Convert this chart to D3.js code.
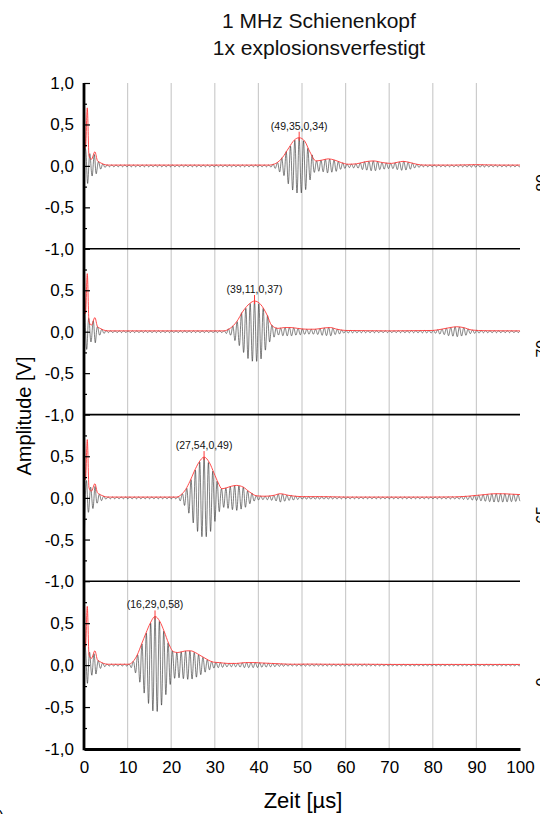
<!DOCTYPE html>
<html><head><meta charset="utf-8">
<script src="https://cdn.jsdelivr.net/npm/d3@7"></script>
<style>body{margin:0;background:#fff}svg{display:block;font-family:"Liberation Sans",Arial,sans-serif}</style>
</head><body><svg id="c" width="540" height="814"></svg>
<script>
// ---------- data ----------
const titleLines = ["1 MHz Schienenkopf", "1x explosionsverfestigt"];
const xLabel = "Zeit [µs]";
const yLabel = "Amplitude [V]";
const xTicks = [0,10,20,30,40,50,60,70,80,90,100];
const gridTicks = [10,20,30,40,50,60,70,80,90];
const yTicksTop = [1,0.5,0,-0.5,-1];
const yTicksOther = [0.5,0,-0.5,-1];
const yMinor = [0.75,0.25,-0.25,-0.75];
const carrierMHz = 1;
const sideLabels = ["80", "70", "65", "0"];

// initial transmitter pulse (common to all traces)
const pulseT = [0, 0.05, 0.35, 0.75, 1.15, 1.7, 2.5, 3.1, 3.7, 4.5, 5.5];
const pulseRedA = [1.0, 0.9, 0.22, 0.7, 0.12, 0.08, 0.17, 0.06, 0.04, 0.02, 0.01];
const pulseBlackA = [0.5, 0.45, 0.2, 0.22, 0.16, 0.12, 0.14, 0.06, 0.04, 0.02, 0.01];

// envelopes (red), top trace first
const env1T = [6, 42.5, 44, 45.5, 47, 48.2, 49.35, 50.6, 51.8, 53.2, 54.6, 56, 57.5, 59, 60.6, 62.5, 64.5, 66.4, 68.5, 70.5, 72, 73.2, 74.8, 76.3, 78, 85, 90, 95, 100];
const env1A = [.01, .01, .03, .1, .22, .31, .34, .3, .17, .06, .07, .085, .07, .04, .02, .025, .05, .06, .04, .03, .045, .055, .04, .02, .01, .01, .015, .01, .01];

const env2T = [6, 32, 33.5, 35, 36.5, 38, 39.11, 40.5, 42, 43, 44.5, 46, 47.5, 49, 51, 53, 55, 56.5, 58, 60, 65, 70, 75, 80, 82, 84, 85.5, 87, 89, 92, 100];
const env2A = [.01, .01, .04, .12, .25, .34, .37, .33, .2, .08, .04, .05, .05, .04, .03, .03, .045, .05, .03, .015, .012, .01, .012, .015, .03, .05, .06, .05, .02, .012, .01];

const env3T = [6, 21.3, 22.3, 23.3, 24.3, 25.3, 26.4, 27.54, 28.8, 29.8, 30.8, 31.6, 32.6, 33.8, 35, 36.5, 38, 39.6, 41.5, 43.5, 45, 47, 50, 55, 60, 70, 80, 85, 88, 90, 92, 94, 96, 98, 100];
const env3A = [.01, .01, .04, .1, .2, .32, .43, .49, .42, .3, .18, .11, .12, .14, .15, .13, .07, .025, .02, .03, .05, .03, .015, .015, .01, .01, .01, .012, .02, .03, .04, .05, .05, .045, .04];

const env4T = [6, 10.2, 11.2, 12.2, 13.2, 14.2, 15.2, 16.29, 17.4, 18.4, 19.4, 20.5, 21.5, 22.5, 23.5, 24.5, 25.5, 26.5, 27.5, 28.5, 29.7, 31, 33, 35, 37, 39, 41, 43, 45, 48, 52, 56, 60, 65, 70, 80, 90, 100];
const env4A = [.01, .01, .04, .12, .25, .38, .5, .58, .52, .4, .26, .16, .15, .16, .17, .17, .15, .12, .09, .06, .035, .03, .02, .02, .03, .03, .025, .02, .015, .01, .012, .01, .01, .01, .008, .008, .008, .008];

const peakT = [49.35, 39.11, 27.54, 16.29];
const peakA = [0.34, 0.37, 0.49, 0.58];

// ---------- layout ----------
const svg = d3.select("#c");
const x0 = 84, x100 = 520, nP = 4;
const panelEdges = [83, 248.8, 414.6, 581.2, 749];
const x = d3.scaleLinear().domain([0, 100]).range([x0, x100]);
const ys = d3.range(nP).map(i => d3.scaleLinear().domain([-1, 1]).range([panelEdges[i + 1], panelEdges[i]]));
const top0 = panelEdges[0], bottomY = panelEdges[nP];
const fmtY = v => (v < 0 ? "-" : "") + Math.abs(v).toFixed(1).replace(".", ",");
const fmt2 = v => v.toFixed(2).replace(".", ",");
const FONT = "Liberation Sans, Arial, sans-serif";

const envT = [env1T, env2T, env3T, env4T];
const envA = [env1A, env2A, env3A, env4A];

// gridlines
svg.append("g").selectAll("line").data(gridTicks).join("line")
  .attr("x1", d => x(d)).attr("x2", d => x(d))
  .attr("y1", top0).attr("y2", bottomY)
  .attr("stroke", "#cccccc").attr("stroke-width", 1.2);

function interp(T, A) {
  return t => {
    const k = d3.bisectRight(T, t);
    if (k <= 0) return A[0];
    if (k >= T.length) return A[A.length - 1];
    const t0 = T[k - 1], t1 = T[k];
    const f = (t - t0) / (t1 - t0);
    const s = f * f * (3 - 2 * f);
    return A[k - 1] + (A[k] - A[k - 1]) * s;
  };
}

for (let i = 0; i < nP; i++) {
  const y = ys[i];
  const T = pulseT.concat(envT[i]);
  const A = pulseRedA.concat(envA[i]);
  const Ab = pulseBlackA.concat(envA[i]);
  const envB = interp(T, Ab);
  const tt = d3.range(0, 100.001, 0.04);
  const sig = tt.map(t => [t, envB(t) * Math.cos(2 * Math.PI * carrierMHz * (t - peakT[i]))]);
  svg.append("path").datum(sig)
    .attr("d", d3.line().x(d => x(d[0])).y(d => y(d[1])))
    .attr("fill", "none").attr("stroke", "#2a2a2a").attr("stroke-width", 0.6);

  const envPts = [[0, -1]].concat(T.map((t, k) => [t, A[k]]));
  svg.append("path").datum(envPts)
    .attr("d", d3.line().x(d => x(d[0])).y(d => y(d[1])).curve(d3.curveMonotoneX))
    .attr("fill", "none").attr("stroke", "#ff3838").attr("stroke-width", 1).attr("opacity", 0.9);

  svg.append("line")
    .attr("x1", x(peakT[i])).attr("x2", x(peakT[i]))
    .attr("y1", y(peakA[i]) - 6).attr("y2", y(peakA[i]) + 3)
    .attr("stroke", "#ff3838").attr("stroke-width", 1);
  svg.append("text")
    .attr("x", x(peakT[i])).attr("y", y(peakA[i]) - 8)
    .attr("text-anchor", "middle").attr("font-size", 10.5).attr("fill", "#111")
    .text("(" + fmt2(peakT[i]) + "," + fmt2(peakA[i]) + ")");

  if (i < nP - 1) {
    svg.append("line").attr("x1", x0).attr("x2", x100)
      .attr("y1", y(-1)).attr("y2", y(-1))
      .attr("stroke", "#000").attr("stroke-width", 1.6);
  }

  const ax = svg.append("g").attr("transform", `translate(${x0},0)`)
    .call(d3.axisLeft(y).tickValues(i === 0 ? yTicksTop : yTicksOther)
      .tickSize(-6).tickSizeOuter(0).tickPadding(10).tickFormat(fmtY));
  ax.select(".domain").remove();
  ax.selectAll("text").attr("font-size", 17).attr("fill", "#000").attr("font-family", FONT);
  ax.selectAll("line").attr("stroke", "#000").attr("stroke-width", 1.2);
  const mx = svg.append("g").attr("transform", `translate(${x0},0)`)
    .call(d3.axisLeft(y).tickValues(yMinor).tickSize(-3).tickSizeOuter(0).tickFormat(""));
  mx.select(".domain").remove();
  mx.selectAll("line").attr("stroke", "#000").attr("stroke-width", 1.2);

  svg.append("text")
    .attr("transform", `translate(548,${y(0) + 17}) rotate(-90)`)
    .attr("text-anchor", "middle").attr("font-size", 16).attr("fill", "#000")
    .text(sideLabels[i]);
}

svg.append("line").attr("x1", x0).attr("x2", x0).attr("y1", top0).attr("y2", bottomY + 1.3)
  .attr("stroke", "#000").attr("stroke-width", 2.8);

const bx = svg.append("g").attr("transform", `translate(0,${bottomY})`)
  .call(d3.axisBottom(x).tickValues(xTicks).tickSize(0).tickPadding(12).tickFormat(d3.format("d")));
bx.select(".domain").attr("stroke", "#000").attr("stroke-width", 2.8);
bx.selectAll("text").attr("font-size", 17).attr("fill", "#000").attr("font-family", FONT);

svg.append("g").selectAll("text").data(titleLines).join("text")
  .attr("x", 319).attr("y", (d, k) => 28 + k * 27)
  .attr("text-anchor", "middle").attr("font-size", 21).attr("fill", "#111").text(d => d);

svg.append("text").attr("transform", "translate(31,416) rotate(-90)")
  .attr("text-anchor", "middle").attr("font-size", 20).attr("fill", "#000").text(yLabel);
svg.append("text").attr("x", 303).attr("y", 808)
  .attr("text-anchor", "middle").attr("font-size", 22).attr("fill", "#000").text(xLabel);

svg.append("text").attr("x", 4).attr("y", 822).attr("text-anchor", "end")
  .attr("font-size", 16).attr("fill", "#000").text("(b)");
</script></body></html>
